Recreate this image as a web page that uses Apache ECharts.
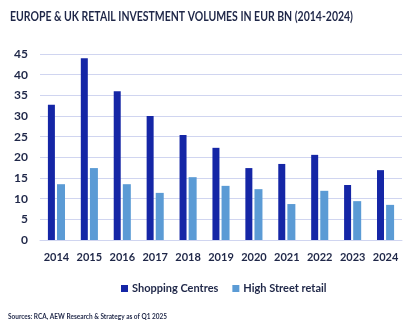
<!DOCTYPE html>
<html>
<head>
<meta charset="utf-8">
<script src="https://cdn.jsdelivr.net/npm/echarts@6/dist/echarts.min.js"></script>
<style>
  html, body { margin: 0; padding: 0; background: #fff; }
  #chart { width: 415px; height: 332px; }
</style>
</head>
<body>
<div id="chart"></div>
<script>
// Retail investment volumes, EUR bn
const years = ['2014', '2015', '2016', '2017', '2018', '2019', '2020', '2021', '2022', '2023', '2024'];
const shoppingCentres = [32.7, 44.0, 36.0, 30.0, 25.4, 22.3, 17.4, 18.4, 20.6, 13.3, 16.9];
const highStreet = [13.5, 17.4, 13.5, 11.4, 15.2, 13.1, 12.3, 8.7, 11.9, 9.4, 8.5];
const seriesNames = ['Shopping Centres', 'High Street retail'];
const titleText = 'EUROPE & UK RETAIL INVESTMENT VOLUMES IN EUR BN (2014-2024)';
const sourceText = 'Sources: RCA, AEW Research & Strategy as of Q1 2025';

const FONT = 'Lato, "Liberation Sans", sans-serif';
const INK = '#1f2748';

// Horizontal squeeze factor so a line of text spans a given width (condensed look)
const measureCtx = document.createElement('canvas').getContext('2d');
function squeeze(text, font, width) {
  measureCtx.font = font;
  return width / measureCtx.measureText(text).width;
}

const titleFont = 'bold 13.5px ' + FONT;
const sourceFont = 'bold 8px ' + FONT;

const chart = echarts.init(document.getElementById('chart'), null, { renderer: 'canvas' });
chart.setOption({
  animation: false,
  graphic: [
    {
      type: 'text', x: 10, y: 10, scaleX: squeeze(titleText, titleFont, 343),
      style: { text: titleText, font: titleFont, fill: INK }
    },
    {
      type: 'text', x: 8, y: 312, scaleX: squeeze(sourceText, sourceFont, 159),
      style: { text: sourceText, font: sourceFont, fill: INK }
    }
  ],
  legend: {
    data: seriesNames,
    top: 278, left: 116,
    itemWidth: 7, itemHeight: 7, itemGap: 14,
    icon: 'rect',
    textStyle: { fontFamily: FONT, fontSize: 11, fontWeight: 'bold', color: INK, padding: [0, 0, 0, -1] }
  },
  grid: { left: 40, right: 13, top: 54, bottom: 92, containLabel: false },
  xAxis: {
    type: 'category', data: years,
    axisLine: { lineStyle: { color: '#d0d5f0' } },
    axisTick: { show: false },
    axisLabel: { interval: 0, fontFamily: FONT, fontSize: 11, fontWeight: 'bold', color: INK, margin: 12 }
  },
  yAxis: {
    type: 'value', min: 0, max: 45, interval: 5,
    axisLine: { show: false }, axisTick: { show: false },
    splitLine: { lineStyle: { color: '#d0d5f0' } },
    axisLabel: { fontFamily: FONT, fontSize: 12, fontWeight: 'bold', color: INK, margin: 12 }
  },
  series: [
    { name: seriesNames[0], type: 'bar', data: shoppingCentres, itemStyle: { color: '#1526a6' }, barWidth: 7, barGap: '30%' },
    { name: seriesNames[1], type: 'bar', data: highStreet, itemStyle: { color: '#5b9bd5' }, barWidth: 8 }
  ]
});
</script>
</body>
</html>
